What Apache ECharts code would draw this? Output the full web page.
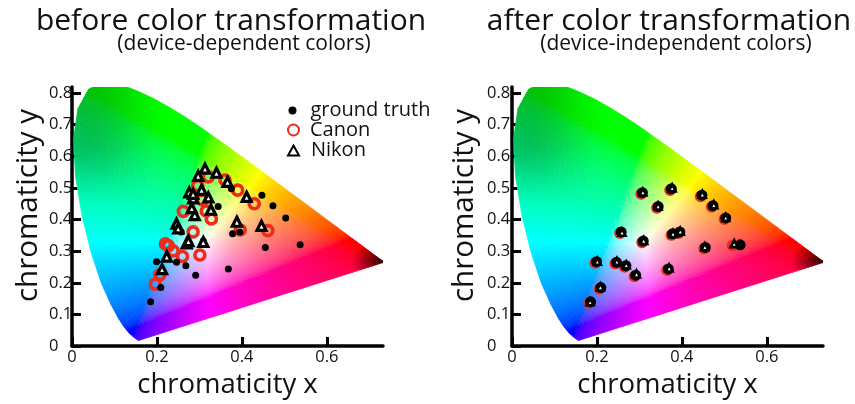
<!DOCTYPE html>
<html><head><meta charset="utf-8">
<script src="https://cdn.jsdelivr.net/npm/echarts@6/dist/echarts.min.js"></script>
<style>html,body{margin:0;padding:0;background:#fff}#c{width:855px;height:404px}</style>
</head><body><div id="c"></div>
<script>
// CIE 1931 spectral locus (x, y), 450-700 nm every 5 nm
const spectralLocus = [
[0.1566,0.0177],[0.1510,0.0227],[0.1440,0.0297],[0.1355,0.0399],
[0.1241,0.0578],[0.1096,0.0868],[0.0913,0.1327],[0.0687,0.2007],[0.0454,0.2950],[0.0235,0.4127],
[0.0082,0.5384],[0.0039,0.6548],[0.0139,0.7502],[0.0389,0.8120],[0.0743,0.8338],[0.1142,0.8262],
[0.1547,0.8059],[0.1929,0.7816],[0.2296,0.7543],[0.2658,0.7243],[0.3016,0.6923],[0.3373,0.6589],
[0.3731,0.6245],[0.4087,0.5896],[0.4441,0.5547],[0.4788,0.5202],[0.5125,0.4866],[0.5448,0.4544],
[0.5752,0.4242],[0.6029,0.3965],[0.6270,0.3725],[0.6482,0.3514],[0.6658,0.3340],[0.6801,0.3197],
[0.6915,0.3083],[0.7006,0.2993],[0.7079,0.2920],[0.7140,0.2859],[0.7190,0.2809],[0.7230,0.2770],
[0.7260,0.2740],[0.7283,0.2717],[0.7300,0.2700],[0.7311,0.2689],[0.7320,0.2680],[0.7327,0.2673],
[0.7334,0.2666],[0.7340,0.2660],[0.7344,0.2656],[0.7346,0.2654],[0.7347,0.2653]
];
const whitePoint = [0.3127, 0.3290];

const groundTruth = [
[0.307,0.485],[0.375,0.497],[0.447,0.477],[0.473,0.444],[0.503,0.405],[0.344,0.441],
[0.257,0.361],[0.309,0.332],[0.378,0.355],[0.395,0.361],[0.455,0.312],[0.537,0.320],
[0.199,0.267],[0.246,0.265],[0.268,0.254],[0.291,0.224],[0.368,0.244],[0.209,0.185],[0.185,0.140]
];
const canonBefore = [
[0.321,0.535],[0.360,0.525],[0.390,0.493],[0.296,0.507],[0.307,0.462],[0.429,0.450],
[0.262,0.426],[0.316,0.427],[0.328,0.402],[0.396,0.367],[0.461,0.365],[0.285,0.361],
[0.220,0.323],[0.227,0.317],[0.238,0.301],[0.260,0.283],[0.301,0.288],[0.207,0.226],[0.196,0.196]
];
const nikonBefore = [
[0.313,0.561],[0.340,0.548],[0.297,0.538],[0.366,0.519],[0.276,0.486],[0.305,0.494],
[0.321,0.470],[0.285,0.467],[0.411,0.472],[0.327,0.431],[0.289,0.414],[0.388,0.393],
[0.446,0.380],[0.246,0.387],[0.270,0.325],[0.309,0.329],[0.223,0.283],[0.212,0.243],
[0.282,0.436],[0.285,0.481],[0.250,0.372],[0.274,0.332]
];
const canonAfter = [
[0.304,0.481],[0.372,0.493],[0.444,0.473],[0.470,0.440],[0.500,0.401],[0.341,0.437],
[0.254,0.357],[0.306,0.328],[0.375,0.351],[0.392,0.357],[0.452,0.308],[0.519,0.318],
[0.196,0.263],[0.243,0.261],[0.265,0.250],[0.288,0.220],[0.365,0.240],[0.206,0.181],[0.182,0.136]
];
const nikonAfter = [
[0.308,0.487],[0.377,0.500],[0.448,0.480],[0.475,0.447],[0.503,0.407],[0.344,0.443],
[0.259,0.360],[0.310,0.334],[0.379,0.356],[0.396,0.363],[0.454,0.314],[0.523,0.324],
[0.201,0.268],[0.247,0.268],[0.269,0.257],[0.293,0.228],[0.370,0.247],[0.208,0.187],[0.184,0.140]
];
const xTicks = [0, 0.2, 0.4, 0.6];
const yTicks = [0, 0.1, 0.2, 0.3, 0.4, 0.5, 0.6, 0.7, 0.8];

function smooth(e0, e1, v){ let t = Math.min(1, Math.max(0, (v-e0)/(e1-e0))); return t*t*(3-2*t); }
function chromaColor(x, y){
  y = Math.max(y, 0.003);
  const X = x / y, Y = 1, Z = (1 - x - y) / y;
  let r = Math.max(0, 3.2406*X - 1.5372*Y - 0.4986*Z);
  let g = Math.max(0, -0.9689*X + 1.8758*Y + 0.0415*Z);
  let b = Math.max(0, 0.0557*X - 0.2040*Y + 1.0570*Z);
  const M = Math.max(r, g, b); r /= M; g /= M; b /= M;
  const gam = v => v <= 0.0031308 ? 12.92*v : 1.055*Math.pow(v, 1/2.4) - 0.055;
  r = gam(r); g = gam(g); b = gam(b);
  const dr = Math.hypot(x - 0.7347, y - 0.2653);
  let f = Math.min(1, 0.12 + 0.88 * dr / 0.075);
  f *= 1 - 0.25 * smooth(0.42, 0.66, y) * (1 - smooth(0.03, 0.24, x));
  const to = v => Math.round(Math.max(0, Math.min(1, v * f)) * 255);
  return 'rgb(' + to(r) + ',' + to(g) + ',' + to(b) + ')';
}
function lerp(a, b, t){ return [a[0] + (b[0]-a[0])*t, a[1] + (b[1]-a[1])*t]; }
function renderWedge(params, api){
  const n = spectralLocus.length, i = params.dataIndex;
  const p0 = spectralLocus[i], p1 = spectralLocus[(i+1) % n];
  const len = Math.hypot(p1[0]-p0[0], p1[1]-p0[1]);
  const S = Math.max(1, Math.ceil(len / 0.01));
  const R = 30;
  const children = [];
  for (let s = 0; s < S; s++) {
    const b0 = lerp(p0, p1, s/S), b1 = lerp(p0, p1, (s+1)/S);
    for (let r = 0; r < R; r++) {
      const t0 = r/R, t1 = (r+1)/R;
      const q = [lerp(whitePoint, b0, t0), lerp(whitePoint, b0, t1), lerp(whitePoint, b1, t1), lerp(whitePoint, b1, t0)];
      const c = [(q[0][0]+q[1][0]+q[2][0]+q[3][0])/4, (q[0][1]+q[1][1]+q[2][1]+q[3][1])/4];
      const col = chromaColor(c[0], c[1]);
      children.push({type: 'polygon', shape: {points: q.map(p => api.coord(p))},
        style: {fill: col, stroke: col, lineWidth: 0.8}, silent: true});
    }
  }
  return {type: 'group', children};
}

const FONT = 'Open Sans';
const TXT = '#111';
function makeX(idx){
  return {gridIndex: idx, type: 'value', min: 0, max: 0.732,
    name: 'chromaticity x', nameLocation: 'middle', nameGap: 22,
    nameTextStyle: {fontFamily: FONT, fontSize: 27.5, color: TXT},
    axisLine: {show: true, onZero: false, lineStyle: {color: '#000', width: 3.5}},
    axisTick: {show: true, inside: true, length: 9, customValues: xTicks, lineStyle: {color: '#000', width: 3}},
    axisLabel: {customValues: xTicks, margin: 3, fontFamily: FONT, fontSize: 16.5, color: TXT,
      formatter: v => String(v)},
    splitLine: {show: false}};
}
function makeY(idx, margin, gap){
  return {gridIndex: idx, type: 'value', min: 0, max: 0.819,
    name: 'chromaticity y', nameLocation: 'middle', nameGap: gap, nameRotate: 90,
    nameTextStyle: {fontFamily: FONT, fontSize: 29.5, color: TXT, padding: [0, 0, 0, 22]},
    axisLine: {show: true, onZero: false, lineStyle: {color: '#000', width: 3.5}},
    axisTick: {show: true, inside: true, length: 9, customValues: yTicks, lineStyle: {color: '#000', width: 3}},
    axisLabel: {customValues: yTicks, margin: margin, align: 'left', fontFamily: FONT, fontSize: 16.5, color: TXT,
      formatter: v => String(v)},
    splitLine: {show: false}};
}
function mesh(idx){
  return {type: 'custom', name: 'gamut' + idx, xAxisIndex: idx, yAxisIndex: idx, data: spectralLocus,
    encode: {x: 0, y: 1}, renderItem: renderWedge, clip: true, silent: true, z: 1};
}
const RED = '#ee2b1c';
function gtSeries(idx, size, data){
  return {type: 'scatter', name: 'ground truth', xAxisIndex: idx, yAxisIndex: idx, data: data,
    symbol: 'circle', symbolSize: size, itemStyle: {color: '#000', opacity: 1}, z: 4, silent: true};
}
function canonSeries(idx, data, size){
  return {type: 'scatter', name: 'Canon', xAxisIndex: idx, yAxisIndex: idx, data: data,
    symbol: 'circle', symbolSize: size, itemStyle: {color: 'rgba(255,255,255,0)', borderColor: RED, borderWidth: 3.6, opacity: 1}, z: 3, silent: true};
}
function nikonSeries(idx, data, size, bw){
  return {type: 'scatter', name: 'Nikon', xAxisIndex: idx, yAxisIndex: idx, data: data,
    symbol: 'triangle', symbolSize: size, itemStyle: {color: '#fff', borderColor: '#000', borderWidth: bw, opacity: 1}, z: 5, silent: true};
}
function legendFor(name, top, w, h, pad){
  return {data: [name], orient: 'vertical', left: 292.5 - w/2, top: top, padding: 0, itemWidth: w, itemHeight: h,
    selectedMode: false, textStyle: {fontFamily: FONT, fontSize: 20, color: TXT, lineHeight: 20, padding: [0,0,0,pad]}};
}
const chart = echarts.init(document.getElementById('c'), null, {renderer: 'canvas'});
chart.setOption({
  animation: false,
  backgroundColor: '#fff',
  grid: [
    {left: 72, top: 87, width: 311, height: 263},
    {left: 512, top: 87, width: 311, height: 263}
  ],
  xAxis: [makeX(0), makeX(1)],
  yAxis: [makeY(0, 23, 28), makeY(1, 25, 32)],
  legend: [
    legendFor('ground truth', 100.5, 8, 8, 9),
    legendFor('Canon', 120, 11, 11, 6),
    legendFor('Nikon', 140.5, 11, 10, 7)
  ],
  graphic: [
    {type: 'text', x: 231, y: 6, style: {text: 'before color transformation', font: '30px "Open Sans"', fill: TXT, textAlign: 'center', textVerticalAlign: 'top'}},
    {type: 'text', x: 244, y: 34, style: {text: '(device-dependent colors)', font: '21px "Open Sans"', fill: TXT, textAlign: 'center', textVerticalAlign: 'top'}},
    {type: 'text', x: 669, y: 6, style: {text: 'after color transformation', font: '30px "Open Sans"', fill: TXT, textAlign: 'center', textVerticalAlign: 'top'}},
    {type: 'text', x: 676, y: 34, style: {text: '(device-independent colors)', font: '21px "Open Sans"', fill: TXT, textAlign: 'center', textVerticalAlign: 'top'}}
  ],
  series: [
    mesh(0), mesh(1),
    gtSeries(0, 7, groundTruth), canonSeries(0, canonBefore, 10), nikonSeries(0, nikonBefore, 9, 3.2),
    canonSeries(1, canonAfter, 8), gtSeries(1, 11, groundTruth), nikonSeries(1, nikonAfter, 7, 2.6)
  ]
});
</script></body></html>
